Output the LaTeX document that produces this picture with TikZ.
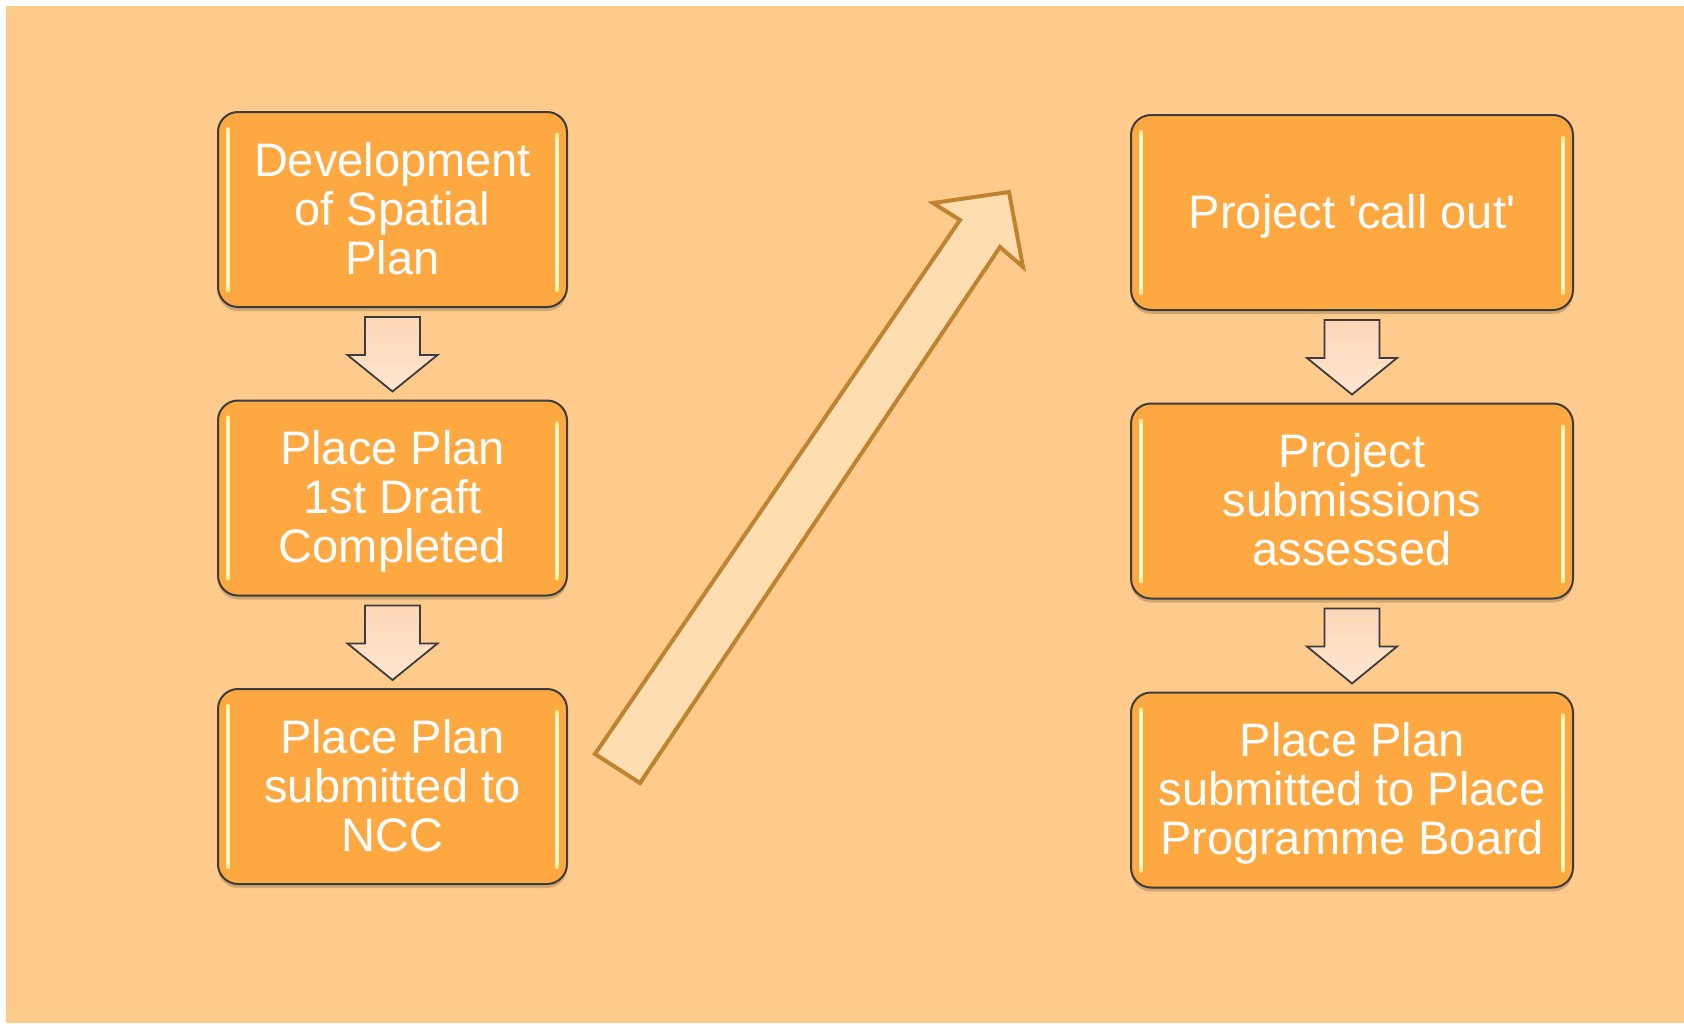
\documentclass[tikz,border=0pt]{standalone}
\usepackage{fontspec}
\setmainfont{Liberation Sans}
\usetikzlibrary{calc,shadows}
\definecolor{bgorange}{HTML}{FECB8C}
\definecolor{boxorange}{HTML}{FEA842}
\definecolor{boxline}{HTML}{3C3C3C}
\definecolor{peach}{HTML}{FDD6B6}
\definecolor{peachlight}{HTML}{FFE6D0}
\definecolor{bigfill}{HTML}{FEDDB0}
\definecolor{bigline}{HTML}{C08330}
\definecolor{hilite}{HTML}{FFF09A}
\newcommand\smallarr[2]{%
  \draw[smallarrow] ($(#1.south)+(-27.5,9)$) -- ($(#1.south)+(27.5,9)$) -- ($(#1.south)+(27.5,47)$) -- ($(#1.south)+(45,47)$) -- ($(#2.north)+(0,-8)$) -- ($(#1.south)+(-45,47)$) -- ($(#1.south)+(-27.5,47)$) -- cycle;}
\newcommand\lift{\rule{0pt}{42pt}}
\newcommand\sink{\rule[-11pt]{0pt}{11pt}}
\begin{document}
\begin{tikzpicture}[x=1pt,y=-1pt,
  stepbox/.style={draw=boxline, line width=2pt, fill=boxorange, rounded corners=20pt,
    minimum height=195pt, inner sep=0pt, text=white, align=center,
    font=\fontsize{47}{49}\selectfont,
    drop shadow={shadow xshift=0pt, shadow yshift=-4pt, opacity=0.18, fill=black}},
  leftbox/.style={stepbox, minimum width=349pt},
  rightbox/.style={stepbox, minimum width=442pt},
  hl/.style={draw=hilite, line width=4pt, line cap=round},
  hlcore/.style={draw=white, line width=1.5pt, line cap=round, opacity=0.8},
  smallarrow/.style={draw=boxline, line width=1.8pt, top color=peach, bottom color=peachlight, line join=miter},
  bigarrow/.style={draw=bigline, line width=4pt, fill=bigfill, line join=miter}]
\useasboundingbox (0,0) rectangle (1684,1023);
\fill[white] (0,0) rectangle (1684,1023);
\fill[bgorange] (6,6) rectangle (1684,1023);

\node[leftbox] (b1) at (392.5,209.5) {\lift Development\\of Spatial\\Plan\sink};
\node[leftbox] (b2) at (392.5,498) {\lift Place Plan\\1st Draft\\Completed\sink};
\node[leftbox] (b3) at (392.5,786.5) {\lift Place Plan\\submitted to\\NCC\sink};
\node[rightbox] (b4) at (1352,212.5) {\lift Project \textquotesingle call out\textquotesingle\sink};
\node[rightbox] (b5) at (1352,501) {\lift Project\\submissions\\assessed\sink};
\node[rightbox] (b6) at (1352,790) {\lift Place Plan\\submitted to Place\\Programme Board\sink};

\foreach \n in {b1,b2,b3,b4,b5,b6}{
  \draw[hl] ([shift={(11,18)}]\n.north west) -- ([shift={(11,-18)}]\n.south west);
  \draw[hlcore] ([shift={(11,22)}]\n.north west) -- ([shift={(11,-22)}]\n.south west);
  \draw[hl] ([shift={(-11,24)}]\n.north east) -- ([shift={(-11,-18)}]\n.south east);
  \draw[hlcore] ([shift={(-11,28)}]\n.north east) -- ([shift={(-11,-22)}]\n.south east);
}

\smallarr{b1}{b2}
\smallarr{b2}{b3}
\smallarr{b4}{b5}
\smallarr{b5}{b6}

\coordinate (t1) at (595,754);
\coordinate (t2) at (640,783);
\coordinate (n1) at (960,220);
\coordinate (lb) at (933,203);
\coordinate (tip) at (1009,192);
\coordinate (rb) at (1023,267);
\coordinate (n2) at (1000,247);
\draw[bigarrow] (t1) -- (n1) -- (lb) -- (tip) -- (rb) -- (n2) -- (t2) -- cycle;
\end{tikzpicture}
\end{document}
